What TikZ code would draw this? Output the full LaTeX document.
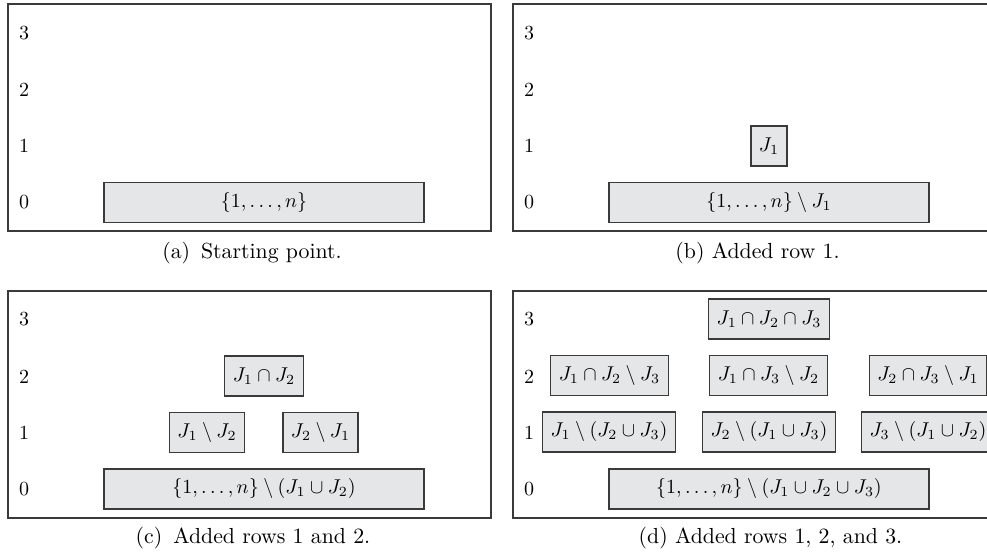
\documentclass[tikz,border=0pt]{standalone}
\usepackage{amsmath,amssymb}
\usepackage{tikz}
\usetikzlibrary{positioning}
\definecolor{pfill}{HTML}{E5E6E8}
\definecolor{pline}{HTML}{3A3A3A}

\begin{document}
\begin{tikzpicture}[x=0.5pt,y=-0.5pt,
  frame/.style={draw=pline,line width=0.6pt},
  part/.style={draw=pline,line width=0.6pt,fill=pfill,
               minimum height=20pt,inner xsep=4pt,inner ysep=0pt},
  base/.style={part,minimum width=160pt},
  rowno/.style={inner sep=0pt},
  capt/.style={inner sep=0pt,font=\fontsize{10.9}{13}\selectfont}]
\useasboundingbox (0,0) rectangle (987,555);

% ---- (a) only row 0 ---------------------------------------------------------
\draw[frame] (8,4) rectangle (491,231);
\foreach \r/\y in {3/33,2/89.5,1/146,0/202.5}
  \node[rowno] (a\r) at (24,\y) {\r};
\node[base] (aset) at (264,202.5) {$\{1,\ldots,n\}$};
\node[capt] (acap) at (252,253.5) {(a)\enspace Starting point.};

% ---- (b) row 1 added --------------------------------------------------------
\draw[frame] (513,4) rectangle (996,231);
\foreach \r/\y in {3/33,2/89.5,1/146,0/202.5}
  \node[rowno] (b\r) at (529,\y) {\r};
\node[part] (bj) at (769,146) {$J_1$};
\node[base] (bset) at (769,202.5) {$\{1,\ldots,n\}\setminus J_1$};
\node[capt] (bcap) at (757.5,253.5) {(b) Added row 1.};

% ---- (c) rows 1 and 2 -------------------------------------------------------
\draw[frame] (8,291) rectangle (491,518);
\foreach \r/\y in {3/319.5,2/376.5,1/433,0/489.5}
  \node[rowno] (c\r) at (24,\y) {\r};
\node[part] (cj12)  at (264,376)   {$J_1\cap J_2$};
\node[part] (cj1)   at (207,432.5) {$J_1\setminus J_2$};
\node[part] (cj2)   at (320.5,432.5) {$J_2\setminus J_1$};
\node[base] (cset)  at (264,489)   {$\{1,\ldots,n\}\setminus(J_1\cup J_2)$};
\node[capt] (ccap)  at (253,538.5) {(c)\enspace Added rows 1 and 2.};

% ---- (d) rows 1, 2 and 3 ----------------------------------------------------
\draw[frame] (513,291) rectangle (996,518);
\foreach \r/\y in {3/319.5,2/376.5,1/433,0/489.5}
  \node[rowno] (d\r) at (529,\y) {\r};
\node[part] (dj123) at (769,319)   {$J_1\cap J_2\cap J_3$};
\node[part] (dj12)  at (609.5,375.5) {$J_1\cap J_2\setminus J_3$};
\node[part] (dj13)  at (768.5,375.5) {$J_1\cap J_3\setminus J_2$};
\node[part] (dj23)  at (928,375.5) {$J_2\cap J_3\setminus J_1$};
\node[part] (dj1)   at (609,432)   {$J_1\setminus(J_2\cup J_3)$};
\node[part] (dj2)   at (769,432)   {$J_2\setminus(J_1\cup J_3)$};
\node[part] (dj3)   at (928,432)   {$J_3\setminus(J_1\cup J_2)$};
\node[base] (dset)  at (769,489)   {$\{1,\ldots,n\}\setminus(J_1\cup J_2\cup J_3)$};
\node[capt] (dcap)  at (770.5,538.5) {(d) Added rows 1, 2, and 3.};
\end{tikzpicture}
\end{document}
